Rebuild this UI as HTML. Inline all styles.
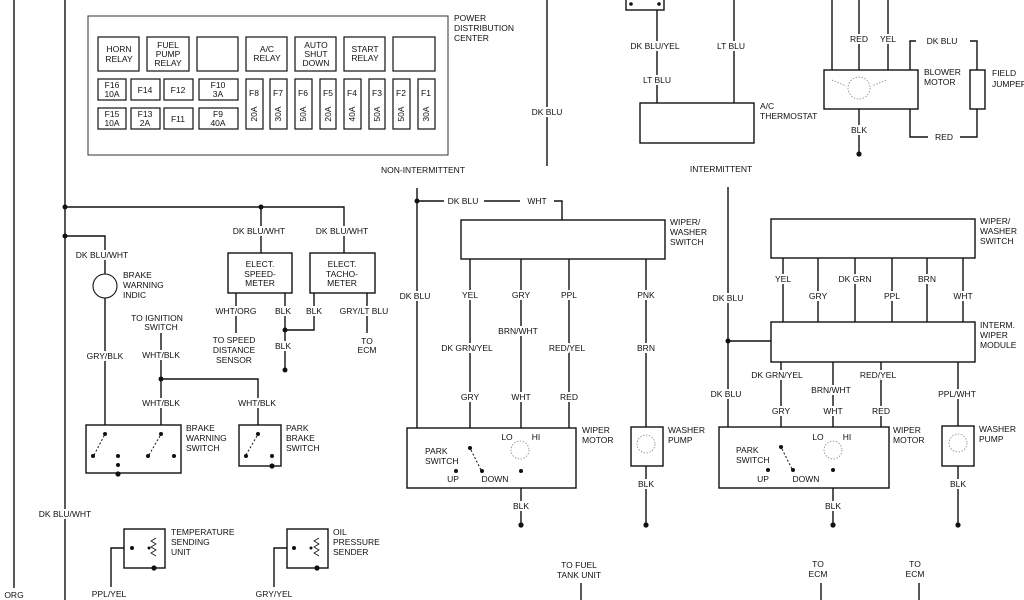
<!DOCTYPE html>
<html><head><meta charset="utf-8"><style>
html,body{margin:0;padding:0;background:#fff}
svg{display:block}
text{font-family:"Liberation Sans",sans-serif;font-size:8.5px;fill:#111;paint-order:stroke;stroke:#fff;stroke-width:4px}
.m{text-anchor:middle}
.n{stroke:none}
</style></head><body>
<svg width="1024" height="600" viewBox="0 0 1024 600" xmlns="http://www.w3.org/2000/svg">
<g fill="none" stroke="#111" stroke-width="1.4">
<line x1="14" y1="0" x2="14" y2="588"/>
<line x1="65" y1="0" x2="65" y2="600"/>
<rect x="88" y="16" width="360" height="139" stroke="#444" stroke-width="1.1"/>
<g stroke-width="1.2">
<rect x="98" y="37" width="41" height="34"/><rect x="147" y="37" width="42" height="34"/><rect x="197" y="37" width="41" height="34"/>
<rect x="246" y="37" width="41" height="34"/><rect x="295" y="37" width="41" height="34"/><rect x="344" y="37" width="41" height="34"/><rect x="393" y="37" width="42" height="34"/>
<rect x="98" y="79" width="28" height="21"/><rect x="131" y="79" width="29" height="21"/><rect x="164" y="79" width="29" height="21"/><rect x="199" y="79" width="39" height="21"/>
<rect x="98" y="108" width="28" height="21"/><rect x="131" y="108" width="29" height="21"/><rect x="164" y="108" width="29" height="21"/><rect x="199" y="108" width="39" height="21"/>
<rect x="246" y="79" width="17" height="50"/><rect x="270" y="79" width="17" height="50"/><rect x="295" y="79" width="17" height="50"/><rect x="320" y="79" width="16" height="50"/>
<rect x="344" y="79" width="17" height="50"/><rect x="369" y="79" width="16" height="50"/><rect x="393" y="79" width="17" height="50"/><rect x="418" y="79" width="17" height="50"/>
</g>
<polyline points="65,207 344,207 344,253"/>
<line x1="261" y1="207" x2="261" y2="253"/>
<rect x="228" y="253" width="64" height="40"/>
<rect x="310" y="253" width="65" height="40"/>
<line x1="236" y1="293" x2="236" y2="333"/>
<polyline points="285,293 285,370"/>
<polyline points="314,293 314,330 285,330"/>
<line x1="367" y1="293" x2="367" y2="333"/>
<polyline points="65,236 105,236 105,425"/>
<circle cx="105" cy="286" r="12" stroke-width="1.1" fill="#fff"/>
<polyline points="161,333 161,425"/>
<polyline points="161,379 258,379 258,425"/>
<rect x="86" y="425" width="95" height="48"/>
<rect x="239" y="425" width="42" height="41"/>
<g stroke-width="1" stroke-dasharray="2,2"><line x1="94" y1="455" x2="104" y2="436"/><line x1="149" y1="455" x2="160" y2="436"/><line x1="246" y1="455" x2="257" y2="436"/></g>
<rect x="124" y="529" width="41" height="39"/>
<polyline points="124,548 111,548 111,587"/>
<rect x="287" y="529" width="41" height="39"/>
<polyline points="287,548 274,548 274,587"/>
<polyline stroke-width="0.8" points="156,538 151,541 156,544 151,547 156,550 151,553 156,556"/>
<polyline stroke-width="0.8" points="319,538 314,541 319,544 314,547 319,550 314,553 319,556"/>
<line x1="547" y1="0" x2="547" y2="166"/>
<rect x="626" y="-2" width="38" height="12"/>
<line x1="657" y1="10" x2="657" y2="103"/>
<line x1="734" y1="0" x2="734" y2="103"/>
<rect x="640" y="103" width="114" height="40"/>
<line x1="832" y1="0" x2="832" y2="70"/><line x1="859" y1="0" x2="859" y2="70"/><line x1="888" y1="0" x2="888" y2="70"/>
<rect x="824" y="70" width="94" height="39"/>
<polyline points="910,70 910,41 977,41 977,70"/>
<rect x="970" y="70" width="15" height="39"/>
<polyline points="977,109 977,137 910,137 910,109"/>
<line x1="859" y1="109" x2="859" y2="154"/>
<line x1="417" y1="188" x2="417" y2="428"/>
<polyline points="417,201 562,201 562,220"/>
<rect x="461" y="220" width="204" height="39"/>
<line x1="470" y1="259" x2="470" y2="428"/><line x1="521" y1="259" x2="521" y2="428"/><line x1="569" y1="259" x2="569" y2="428"/><line x1="646" y1="259" x2="646" y2="427"/>
<rect x="407" y="428" width="169" height="60"/>
<rect x="631" y="427" width="32" height="39"/>
<line x1="521" y1="488" x2="521" y2="525"/><line x1="646" y1="466" x2="646" y2="525"/>
<line x1="728" y1="187" x2="728" y2="427"/>
<rect x="771" y="219" width="204" height="39"/>
<line x1="783" y1="258" x2="783" y2="322"/><line x1="818" y1="258" x2="818" y2="322"/><line x1="855" y1="258" x2="855" y2="322"/><line x1="892" y1="258" x2="892" y2="322"/><line x1="927" y1="258" x2="927" y2="322"/><line x1="963" y1="258" x2="963" y2="322"/>
<line x1="728" y1="341" x2="771" y2="341"/>
<rect x="771" y="322" width="204" height="40"/>
<line x1="781" y1="362" x2="781" y2="427"/><line x1="833" y1="362" x2="833" y2="427"/><line x1="881" y1="362" x2="881" y2="427"/><line x1="958" y1="362" x2="958" y2="426"/>
<rect x="719" y="427" width="170" height="61"/>
<rect x="942" y="426" width="32" height="40"/>
<line x1="833" y1="488" x2="833" y2="525"/><line x1="958" y1="466" x2="958" y2="525"/>
<line x1="581" y1="583" x2="581" y2="600"/><line x1="821" y1="583" x2="821" y2="600"/><line x1="919" y1="583" x2="919" y2="600"/>
<g stroke="#888" stroke-width="0.8" stroke-dasharray="1.5,1.5">
<circle cx="520" cy="450" r="9"/><circle cx="646" cy="444" r="9"/><circle cx="833" cy="450" r="9"/><circle cx="958" cy="443" r="9"/><circle cx="859" cy="88" r="11"/>
<polyline points="832,80 846,86"/><polyline points="886,80 872,86"/>
</g>
<g stroke-width="1" stroke-dasharray="2,2"><line x1="471" y1="450" x2="481" y2="470"/><line x1="782" y1="449" x2="792" y2="469"/></g>
</g>
<!-- gaps for horizontal labels -->
<g fill="#fff">
<rect x="444" y="197" width="40" height="8"/><rect x="520" y="197" width="34" height="8"/>
<rect x="916" y="37" width="54" height="8"/><rect x="928" y="133" width="32" height="8"/>
</g>
<g fill="#111">
<circle cx="65" cy="207" r="2.5"/><circle cx="261" cy="207" r="2.5"/><circle cx="65" cy="236" r="2.5"/>
<circle cx="285" cy="330" r="2.5"/><circle cx="285" cy="370" r="2.5"/><circle cx="161" cy="379" r="2.5"/>
<circle cx="105" cy="434" r="2"/><circle cx="161" cy="434" r="2"/><circle cx="93" cy="456" r="2"/><circle cx="148" cy="456" r="2"/><circle cx="118" cy="456" r="2"/><circle cx="118" cy="465" r="2"/><circle cx="118" cy="474" r="2.6"/><circle cx="174" cy="456" r="2"/>
<circle cx="258" cy="434" r="2"/><circle cx="246" cy="456" r="2"/><circle cx="272" cy="456" r="2"/><circle cx="272" cy="466" r="2.6"/>
<circle cx="132" cy="548" r="2"/><circle cx="149" cy="548" r="1.5"/><circle cx="154" cy="568" r="2.6"/>
<circle cx="294" cy="548" r="2"/><circle cx="311" cy="548" r="1.5"/><circle cx="317" cy="568" r="2.6"/>
<circle cx="631" cy="4" r="1.8"/><circle cx="659" cy="4" r="1.8"/>
<circle cx="859" cy="154" r="2.6"/>
<circle cx="417" cy="201" r="2.5"/><circle cx="728" cy="341" r="2.5"/>
<circle cx="470" cy="448" r="2"/><circle cx="456" cy="471" r="2"/><circle cx="482" cy="471" r="2"/><circle cx="521" cy="471" r="2"/>
<circle cx="781" cy="447" r="2"/><circle cx="768" cy="470" r="2"/><circle cx="793" cy="470" r="2"/><circle cx="833" cy="470" r="2"/>
<circle cx="521" cy="525" r="2.6"/><circle cx="646" cy="525" r="2.6"/><circle cx="833" cy="525" r="2.6"/><circle cx="958" cy="525" r="2.6"/>
</g>
<g class="n">
<text class="m n" x="119" y="52">HORN</text><text class="m n" x="119" y="62">RELAY</text>
<text class="m n" x="168" y="48">FUEL</text><text class="m n" x="168" y="57">PUMP</text><text class="m n" x="168" y="66">RELAY</text>
<text class="m n" x="267" y="52">A/C</text><text class="m n" x="267" y="61">RELAY</text>
<text class="m n" x="316" y="48">AUTO</text><text class="m n" x="316" y="57">SHUT</text><text class="m n" x="316" y="66">DOWN</text>
<text class="m n" x="365" y="52">START</text><text class="m n" x="365" y="61">RELAY</text>
<text class="m n" x="112" y="88">F16</text><text class="m n" x="112" y="97">10A</text>
<text class="m n" x="145" y="93">F14</text><text class="m n" x="178" y="93">F12</text>
<text class="m n" x="218" y="88">F10</text><text class="m n" x="218" y="97">3A</text>
<text class="m n" x="112" y="117">F15</text><text class="m n" x="112" y="126">10A</text>
<text class="m n" x="145" y="117">F13</text><text class="m n" x="145" y="126">2A</text>
<text class="m n" x="178" y="122">F11</text>
<text class="m n" x="218" y="117">F9</text><text class="m n" x="218" y="126">40A</text>
</g>
<text class="m n" x="254" y="96">F8</text><text class="m n" x="278" y="96">F7</text><text class="m n" x="303" y="96">F6</text><text class="m n" x="328" y="96">F5</text><text class="m n" x="352" y="96">F4</text><text class="m n" x="377" y="96">F3</text><text class="m n" x="401" y="96">F2</text><text class="m n" x="426" y="96">F1</text>
<g class="n">
<text class="m n" transform="translate(257,114) rotate(-90)">20A</text>
<text class="m n" transform="translate(281,114) rotate(-90)">30A</text>
<text class="m n" transform="translate(306,114) rotate(-90)">50A</text>
<text class="m n" transform="translate(331,114) rotate(-90)">20A</text>
<text class="m n" transform="translate(355,114) rotate(-90)">40A</text>
<text class="m n" transform="translate(380,114) rotate(-90)">50A</text>
<text class="m n" transform="translate(404,114) rotate(-90)">50A</text>
<text class="m n" transform="translate(429,114) rotate(-90)">30A</text>
</g>
<text x="454" y="21">POWER</text><text x="454" y="31">DISTRIBUTION</text><text x="454" y="41">CENTER</text>
<text class="m" x="259" y="234">DK BLU/WHT</text><text class="m" x="342" y="234">DK BLU/WHT</text>
<text class="m" x="102" y="258">DK BLU/WHT</text>
<text x="123" y="278">BRAKE</text><text x="123" y="288">WARNING</text><text x="123" y="298">INDIC</text>
<text class="m" x="260" y="267">ELECT.</text><text class="m" x="260" y="277">SPEED-</text><text class="m" x="260" y="286">METER</text>
<text class="m" x="342" y="267">ELECT.</text><text class="m" x="342" y="277">TACHO-</text><text class="m" x="342" y="286">METER</text>
<text class="m" x="236" y="314">WHT/ORG</text><text class="m" x="283" y="314">BLK</text><text class="m" x="314" y="314">BLK</text><text class="m" x="364" y="314">GRY/LT BLU</text>
<text class="m" x="234" y="343">TO SPEED</text><text class="m" x="234" y="353">DISTANCE</text><text class="m" x="234" y="363">SENSOR</text>
<text class="m" x="283" y="349">BLK</text>
<text class="m" x="367" y="344">TO</text><text class="m" x="367" y="353">ECM</text>
<text class="m" x="157" y="321">TO IGNITION</text><text class="m" x="161" y="330">SWITCH</text>
<text class="m" x="105" y="359">GRY/BLK</text><text class="m" x="161" y="358">WHT/BLK</text>
<text class="m" x="161" y="406">WHT/BLK</text><text class="m" x="257" y="406">WHT/BLK</text>
<text x="186" y="431">BRAKE</text><text x="186" y="441">WARNING</text><text x="186" y="451">SWITCH</text>
<text x="286" y="431">PARK</text><text x="286" y="441">BRAKE</text><text x="286" y="451">SWITCH</text>
<text class="m" x="65" y="517">DK BLU/WHT</text>
<text class="m" x="14" y="598">ORG</text>
<text x="171" y="535">TEMPERATURE</text><text x="171" y="545">SENDING</text><text x="171" y="555">UNIT</text>
<text x="333" y="535">OIL</text><text x="333" y="545">PRESSURE</text><text x="333" y="555">SENDER</text>
<text class="m" x="109" y="597">PPL/YEL</text><text class="m" x="274" y="597">GRY/YEL</text>
<text class="m" x="547" y="115">DK BLU</text>
<text class="m" x="655" y="49">DK BLU/YEL</text><text class="m" x="657" y="83">LT BLU</text><text class="m" x="731" y="49">LT BLU</text>
<text x="760" y="109">A/C</text><text x="760" y="119">THERMOSTAT</text>
<text class="m" x="859" y="42">RED</text><text class="m" x="888" y="42">YEL</text><text class="m" x="942" y="44">DK BLU</text>
<text x="924" y="75">BLOWER</text><text x="924" y="85">MOTOR</text>
<text x="992" y="76">FIELD</text><text x="992" y="87">JUMPER</text>
<text class="m" x="859" y="133">BLK</text><text class="m" x="944" y="140">RED</text>
<text class="m" x="423" y="173">NON-INTERMITTENT</text><text class="m" x="721" y="172">INTERMITTENT</text>
<text class="m" x="463" y="204">DK BLU</text><text class="m" x="537" y="204">WHT</text>
<text x="670" y="225">WIPER/</text><text x="670" y="235">WASHER</text><text x="670" y="245">SWITCH</text>
<text class="m" x="415" y="299">DK BLU</text><text class="m" x="470" y="298">YEL</text><text class="m" x="521" y="298">GRY</text><text class="m" x="569" y="298">PPL</text><text class="m" x="646" y="298">PNK</text>
<text class="m" x="518" y="334">BRN/WHT</text><text class="m" x="467" y="351">DK GRN/YEL</text><text class="m" x="567" y="351">RED/YEL</text><text class="m" x="646" y="351">BRN</text>
<text class="m" x="470" y="400">GRY</text><text class="m" x="521" y="400">WHT</text><text class="m" x="569" y="400">RED</text>
<text x="582" y="433">WIPER</text><text x="582" y="443">MOTOR</text>
<text x="668" y="433">WASHER</text><text x="668" y="443">PUMP</text>
<text class="m n" x="507" y="440">LO</text><text class="m n" x="536" y="440">HI</text>
<text class="n" x="425" y="454">PARK</text><text class="n" x="425" y="464">SWITCH</text>
<text class="m n" x="453" y="482">UP</text><text class="m n" x="495" y="482">DOWN</text>
<text class="m" x="521" y="509">BLK</text><text class="m" x="646" y="487">BLK</text>
<text class="m" x="728" y="301">DK BLU</text><text class="m" x="726" y="397">DK BLU</text>
<text x="980" y="224">WIPER/</text><text x="980" y="234">WASHER</text><text x="980" y="244">SWITCH</text>
<text class="m" x="783" y="282">YEL</text><text class="m" x="855" y="282">DK GRN</text><text class="m" x="927" y="282">BRN</text>
<text class="m" x="818" y="299">GRY</text><text class="m" x="892" y="299">PPL</text><text class="m" x="963" y="299">WHT</text>
<text x="980" y="328">INTERM.</text><text x="980" y="338">WIPER</text><text x="980" y="348">MODULE</text>
<text class="m" x="777" y="378">DK GRN/YEL</text><text class="m" x="878" y="378">RED/YEL</text><text class="m" x="831" y="393">BRN/WHT</text><text class="m" x="957" y="397">PPL/WHT</text>
<text class="m" x="781" y="414">GRY</text><text class="m" x="833" y="414">WHT</text><text class="m" x="881" y="414">RED</text>
<text x="893" y="433">WIPER</text><text x="893" y="443">MOTOR</text>
<text x="979" y="432">WASHER</text><text x="979" y="442">PUMP</text>
<text class="m n" x="818" y="440">LO</text><text class="m n" x="847" y="440">HI</text>
<text class="n" x="736" y="453">PARK</text><text class="n" x="736" y="463">SWITCH</text>
<text class="m n" x="763" y="482">UP</text><text class="m n" x="806" y="482">DOWN</text>
<text class="m" x="833" y="509">BLK</text><text class="m" x="958" y="487">BLK</text>
<text class="m" x="579" y="568">TO FUEL</text><text class="m" x="579" y="578">TANK UNIT</text>
<text class="m" x="818" y="567">TO</text><text class="m" x="818" y="577">ECM</text>
<text class="m" x="915" y="567">TO</text><text class="m" x="915" y="577">ECM</text>
</svg>
</body></html>
